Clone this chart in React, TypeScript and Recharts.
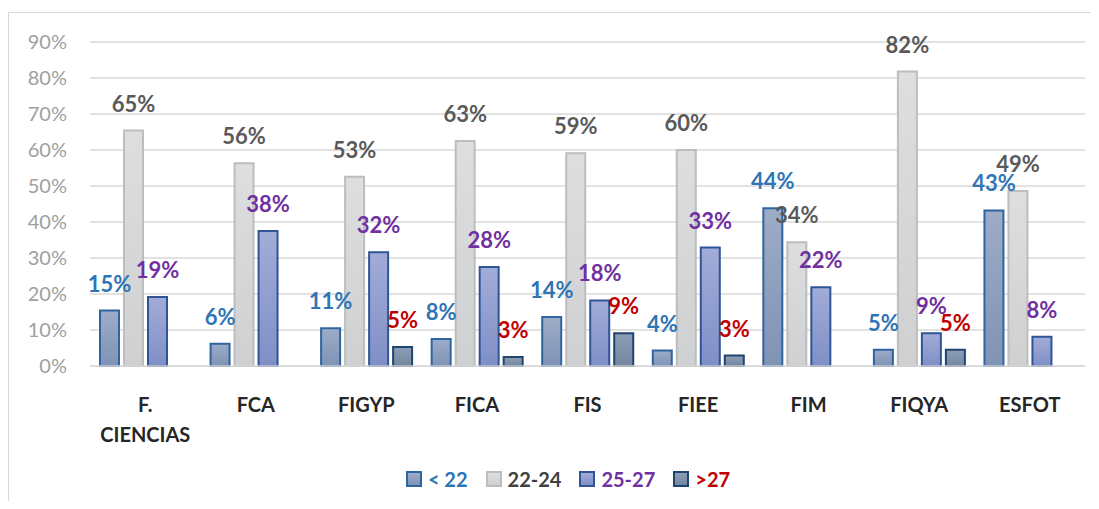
import { BarChart, Bar, XAxis, YAxis, CartesianGrid, LabelList } from "recharts";

const categories = ["F. CIENCIAS", "FCA", "FIGYP", "FICA", "FIS", "FIEE", "FIM", "FIQYA", "ESFOT"];
const under22 = [0.154, 0.062, 0.105, 0.075, 0.136, 0.043, 0.438, 0.045, 0.432];
const from22to24 = [0.654, 0.563, 0.526, 0.625, 0.591, 0.6, 0.344, 0.818, 0.486];
const from25to27 = [0.192, 0.375, 0.316, 0.275, 0.182, 0.329, 0.219, 0.091, 0.081];
const over27 = [null, null, 0.053, 0.025, 0.091, 0.029, null, 0.045, null];
const yTicks = [0, 0.1, 0.2, 0.3, 0.4, 0.5, 0.6, 0.7, 0.8, 0.9];

const series = [
  { key: "a", name: "< 22", values: under22, grad: ["#9DACC7", "#7F93B6"], stroke: "#2E64A0", text: "#2E75B6" },
  { key: "b", name: "22-24", values: from22to24, grad: ["#DDDEE0", "#CFD0D2"], stroke: "#BDBDBD", text: "#595959", legendText: "#404040" },
  { key: "c", name: "25-27", values: from25to27, grad: ["#A2ACD8", "#7F8FC6"], stroke: "#2F5597", text: "#7030A0" },
  { key: "d", name: ">27", values: over27, grad: ["#8C9DB6", "#75879F"], stroke: "#1F4470", text: "#C00000" },
];

const data = categories.map((c, i) => {
  const row: any = { name: c };
  series.forEach((s) => { row[s.key] = s.values[i]; });
  return row;
});

const FONT = "Lato, 'Open Sans', sans-serif";

const CatTick = ({ x, y, payload }: any) => {
  const lines = String(payload.value).split(" ");
  return (
    <text x={x} y={y + 38} textAnchor="middle" fontFamily={FONT} fontWeight={700} fontSize={20} fill="#262626">
      {lines.map((l, i) => (
        <tspan key={i} x={x} dy={i === 0 ? 0 : 30}>{l}</tspan>
      ))}
    </text>
  );
};

const makeLabel = (color: string) => (props: any) => {
  const { x, y, width, value } = props;
  if (value == null) return null;
  return (
    <text x={x + width / 2} y={y - 19} textAnchor="middle" fontFamily={FONT} fontWeight={700} fontSize={22} fill={color}>
      {Math.round(value * 100)}%
    </text>
  );
};

export default function App() {
  return (
    <div style={{ position: "relative", width: 1099, height: 509, margin: -8, background: "#fff", overflow: "hidden" }}>
      <div style={{ position: "absolute", left: 8, top: 12, width: 1200, height: 600, borderTop: "1.5px solid #D9D9D9", borderLeft: "1.5px solid #D9D9D9" }} />
      <div style={{ position: "absolute", left: 0, top: 0 }}>
        <BarChart width={1099} height={509} data={data} margin={{ top: 42, right: 14, bottom: 83, left: 0 }}
          barCategoryGap={10} barGap={5} barSize={19}>
          <defs>
            {series.map((s) => (
              <linearGradient key={s.key} id={`g-${s.key}`} x1="0" y1="0" x2="0" y2="1">
                <stop offset="0%" stopColor={s.grad[0]} />
                <stop offset="100%" stopColor={s.grad[1]} />
              </linearGradient>
            ))}
          </defs>
          <CartesianGrid vertical={false} stroke="#D9D9D9" strokeWidth={1.5} />
          <XAxis dataKey="name" axisLine={{ stroke: "#D9D9D9", strokeWidth: 1.5 }} tickLine={false} tick={<CatTick />} height={60} interval={0} />
          <YAxis domain={[0, 0.9]} ticks={yTicks} width={90} axisLine={false} tickLine={false} tickMargin={17}
            tickFormatter={(v: number) => `${Math.round(v * 100)}%`}
            tick={{ fill: "#A0A0A0", fontSize: 20, fontFamily: FONT }} />
          {series.map((s) => (
            <Bar key={s.key} dataKey={s.key} name={s.name} fill={`url(#g-${s.key})`} stroke={s.stroke} strokeWidth={2} isAnimationActive={false}>
              <LabelList dataKey={s.key} content={makeLabel(s.text)} />
            </Bar>
          ))}
        </BarChart>
      </div>
      <div style={{ position: "absolute", top: 467, left: 13, width: 1110, display: "flex", justifyContent: "center", gap: 18, fontFamily: FONT, fontWeight: 700, fontSize: 20 }}>
        {series.map((s) => (
          <div key={s.key} style={{ display: "flex", alignItems: "center", gap: 6 }}>
            <span style={{ display: "inline-block", width: 12, height: 12, background: `linear-gradient(${s.grad[0]}, ${s.grad[1]})`, border: `2px solid ${s.stroke}` }} />
            <span style={{ color: s.legendText || s.text }}>{s.name}</span>
          </div>
        ))}
      </div>
    </div>
  );
}
